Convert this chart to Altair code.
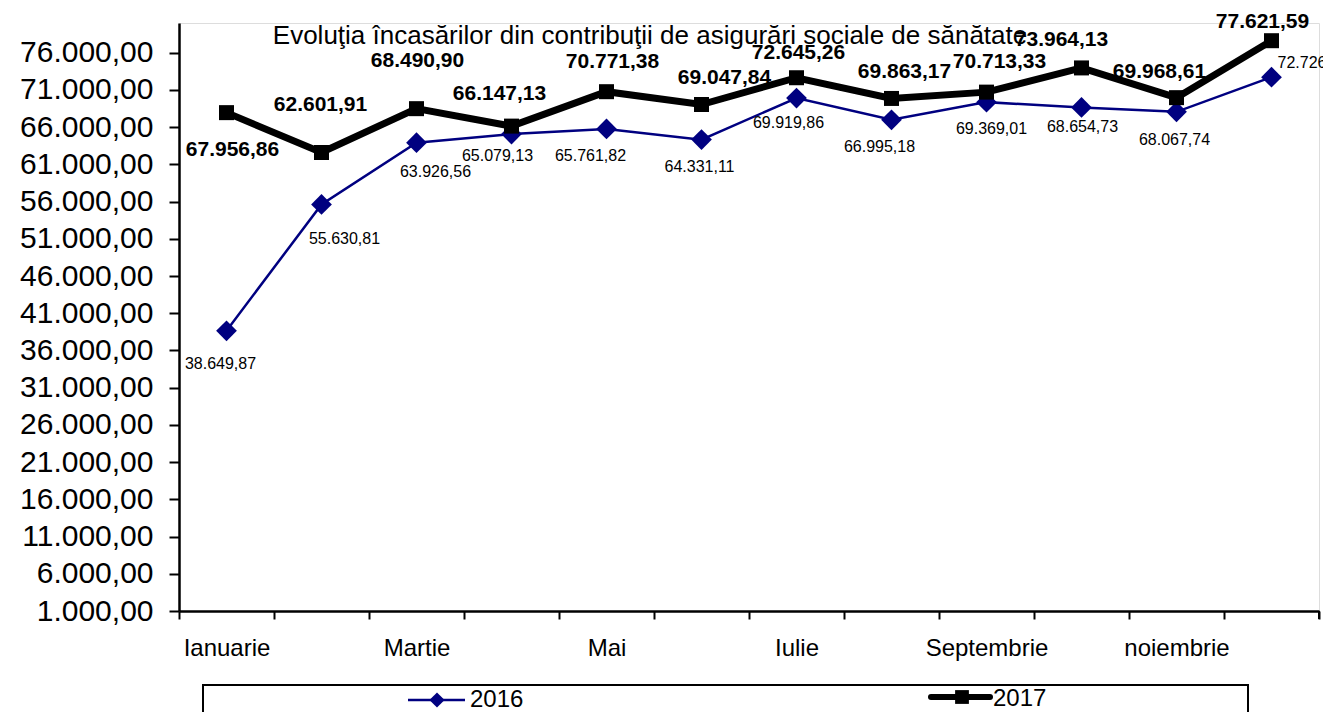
import altair as alt
import pandas as pd

# ---------------- data ----------------
months = ["Ianuarie", "Februarie", "Martie", "Aprilie", "Mai", "Iunie",
          "Iulie", "August", "Septembrie", "Octombrie", "noiembrie", "Decembrie"]
years = ["2016", "2017"]
v2016 = [38649.87, 55630.81, 63926.56, 65079.13, 65761.82, 64331.11,
         69919.86, 66995.18, 69369.01, 68654.73, 68067.74, 72726.85]
v2017 = [67956.86, 62601.91, 68490.90, 66147.13, 70771.38, 69047.84,
         72645.26, 69863.17, 70713.33, 73964.13, 69968.61, 77621.59]
y_ticks = list(range(1000, 76001, 5000))
title_text = "Evoluţia încasărilor din contribuţii de asigurări sociale de sănătate"

df = pd.DataFrame({
    "luna": months * 2,
    "an": [years[0]] * 12 + [years[1]] * 12,
    "valoare": v2016 + v2017,
})

# ---------------- styles / layout ----------------
FONT = "Liberation Sans"
W, H = 1140, 588
NAVY = "#000080"

# label offsets (dx, dy) in pixels, per month
off2016 = [(-6, 33), (23, 35), (19, 29), (-14, 22), (-16, 27), (-2, 27),
           (-8, 25), (-12, 27), (5, 27), (1, 20), (-2, 28), (6, -14)]
off2017 = [(6, 37), (-1, -47), (1, -48), (-12, -32), (6, -30), (23, -27),
           (2, -25), (13, -26), (13, -30), (-20, -28), (-17, -26), (-9, -19)]

shown = months[::2]
label_expr = "indexof([" + ",".join("'" + m + "'" for m in shown) + "], datum.value) >= 0 ? datum.value : ''"

x_enc = alt.X("luna:N", sort=months,
              scale=alt.Scale(paddingInner=0, paddingOuter=0),
              axis=alt.Axis(title=None, labelExpr=label_expr, tickBand="extent",
                            labelAngle=0, labelFontSize=24, labelFont=FONT,
                            labelColor="black", labelPadding=17, tickSize=8,
                            tickColor="black", tickWidth=2, domainColor="black",
                            domainWidth=2.5, labelOverlap=False, grid=False))
y_enc = alt.Y("valoare:Q",
              scale=alt.Scale(domain=[1000, 80000], nice=False, zero=False),
              axis=alt.Axis(title=None, values=y_ticks, format=",.2f",
                            labelFontSize=30, labelFont=FONT, labelColor="black",
                            labelPadding=16, tickSize=10, tickColor="black",
                            tickWidth=2, domainColor="black", domainWidth=2.5,
                            grid=False, labelOverlap=False))

base = alt.Chart(df).encode(x=x_enc, y=y_enc)
f16 = "datum.an == '2016'"
f17 = "datum.an == '2017'"

line16 = base.transform_filter(f16).mark_line(color=NAVY, strokeWidth=2.5)
pts16 = base.transform_filter(f16).mark_point(shape="diamond", filled=True, size=430,
                                              color=NAVY, opacity=1)
line17 = base.transform_filter(f17).mark_line(color="black", strokeWidth=7)
pts17 = base.transform_filter(f17).mark_point(shape="square", filled=True, size=225,
                                              color="black", opacity=1)

labels = []
for i, m in enumerate(months):
    dx, dy = off2016[i]
    align = "left" if i == 11 else "center"
    labels.append(
        base.transform_filter(f"{f16} && datum.luna == '{m}'")
        .mark_text(dx=dx, dy=dy, fontSize=16, font=FONT, color="black",
                   align=align, baseline="middle")
        .encode(text=alt.Text("valoare:Q", format=",.2f"))
    )
for i, m in enumerate(months):
    dx, dy = off2017[i]
    labels.append(
        base.transform_filter(f"{f17} && datum.luna == '{m}'")
        .mark_text(dx=dx, dy=dy, fontSize=21, font=FONT, fontWeight="bold",
                   color="black", align="center", baseline="middle")
        .encode(text=alt.Text("valoare:Q", format=",.2f"))
    )

one = pd.DataFrame({"t": [title_text]})
title = alt.Chart(one).mark_text(font=FONT, fontSize=26, color="black",
                                 align="center", baseline="alphabetic").encode(
    x=alt.value(471), y=alt.value(20.5), text="t:N")

# right-most x tick
end_tick = alt.Chart(one).mark_rule(color="black", strokeWidth=2).encode(
    x=alt.value(W), y=alt.value(H), y2=alt.value(H + 8))

# legend (manual, bordered box below the axis)
leg_df = pd.DataFrame({"an": years})
leg_box = alt.Chart(one).mark_rect(fillOpacity=0, stroke="black", strokeWidth=2).encode(
    x=alt.value(24), x2=alt.value(1069), y=alt.value(662), y2=alt.value(720))
leg_l16 = alt.Chart(one).mark_rule(color=NAVY, strokeWidth=2.5).encode(
    x=alt.value(229), x2=alt.value(286), y=alt.value(677))
leg_p16 = alt.Chart(one).mark_point(shape="diamond", filled=True, size=230,
                                    color=NAVY, opacity=1).encode(
    x=alt.value(258), y=alt.value(677))
leg_t16 = alt.Chart(leg_df).transform_filter(f16).mark_text(
    font=FONT, fontSize=24, color="black", align="left", baseline="middle").encode(
    x=alt.value(291), y=alt.value(677), text="an:N")
leg_l17 = alt.Chart(one).mark_rule(color="black", strokeWidth=6, strokeCap="round").encode(
    x=alt.value(752), x2=alt.value(811), y=alt.value(674))
leg_p17 = alt.Chart(one).mark_point(shape="square", filled=True, size=190,
                                    color="black", opacity=1).encode(
    x=alt.value(783), y=alt.value(674))
leg_t17 = alt.Chart(leg_df).transform_filter(f17).mark_text(
    font=FONT, fontSize=24, color="black", align="left", baseline="middle").encode(
    x=alt.value(814), y=alt.value(676), text="an:N")

chart = alt.layer(
    line16, pts16, line17, pts17, *labels, title, end_tick,
    leg_box, leg_l16, leg_p16, leg_t16, leg_l17, leg_p17, leg_t17
).properties(
    width=W, height=H,
    autosize=alt.AutoSizeParams(type="none"),
    padding={"left": 171, "top": 15, "right": 4, "bottom": 101},
).configure_view(
    stroke="black", strokeWidth=2
).configure(background="white")

chart.save("out.html", embed_options={
    "renderer": "svg", "actions": False,
    "formatLocale": {"decimal": ",", "thousands": ".", "grouping": [3],
                     "currency": ["", " lei"]},
})
